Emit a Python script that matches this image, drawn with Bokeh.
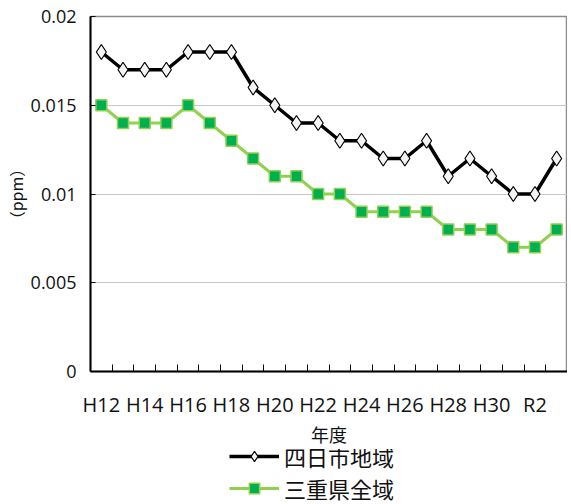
from bokeh.plotting import figure
from bokeh.layouts import column
from bokeh.models import FixedTicker, Legend, LegendItem, CustomJSTickFormatter, Range1d, ColumnDataSource
from bokeh.embed import file_html
from bokeh.resources import INLINE

years = ["H12", "H13", "H14", "H15", "H16", "H17", "H18", "H19", "H20", "H21", "H22",
         "H23", "H24", "H25", "H26", "H27", "H28", "H29", "H30", "R1", "R2", "R3"]
yokkaichi = [0.018, 0.017, 0.017, 0.017, 0.018, 0.018, 0.018, 0.016, 0.015, 0.014, 0.014,
             0.013, 0.013, 0.012, 0.012, 0.013, 0.011, 0.012, 0.011, 0.010, 0.010, 0.012]
mie = [0.015, 0.014, 0.014, 0.014, 0.015, 0.014, 0.013, 0.012, 0.011, 0.011, 0.010,
       0.010, 0.009, 0.009, 0.009, 0.009, 0.008, 0.008, 0.008, 0.007, 0.007, 0.008]
y_ticks = [0, 0.005, 0.01, 0.015, 0.02]
series_names = ["四日市地域", "三重県全域"]

idx = list(range(len(years)))
src = ColumnDataSource(dict(x=idx, year=years, a=yokkaichi, b=mie))

FONT = "Open Sans"
JP = "Noto Sans CJK JP"
TXT = "#111111"

STYLE_A = dict(line=dict(line_color="black", line_width=3.5),
               marker=dict(marker="diamond", size=15, fill_color="#f4f4f4",
                           line_color="black", line_width=1.2))
STYLE_B = dict(line=dict(line_color="#92d050", line_width=3),
               marker=dict(marker="square", size=11, fill_color="#00b050",
                           line_color="#92d050", line_width=1.5))

p = figure(frame_width=477, frame_height=355, output_backend="svg", toolbar_location=None,
           x_range=Range1d(-0.5, len(years) - 0.5), y_range=Range1d(0, 0.02),
           min_border_left=86, min_border_top=16, min_border_right=0, min_border_bottom=0)

p.outline_line_color = "#8c8c8c"
p.outline_line_width = 1.5
p.background_fill_color = "white"
p.border_fill_color = "white"

# grid
p.xgrid.visible = False
p.ygrid.grid_line_color = "#c8c8c8"
p.ygrid.grid_line_width = 1

# y axis
p.yaxis.ticker = FixedTicker(ticks=y_ticks)
p.yaxis.formatter = CustomJSTickFormatter(code="return tick.toString();")
p.yaxis.axis_line_color = "black"
p.yaxis.axis_line_width = 2
p.yaxis.major_tick_out = 0
p.yaxis.major_tick_in = 5
p.yaxis.minor_tick_line_color = None
p.yaxis.major_label_text_font = FONT
p.yaxis.major_label_text_font_size = "18px"
p.yaxis.major_label_text_color = TXT
p.yaxis.major_label_standoff = 14
p.yaxis.axis_label = "（ppm）"
p.yaxis.axis_label_text_font = JP
p.yaxis.axis_label_text_font_size = "16px"
p.yaxis.axis_label_text_color = TXT
p.yaxis.axis_label_text_font_style = "normal"
p.yaxis.axis_label_standoff = 0

# x axis
label_idx = [i for i in idx if i % 2 == 0]
boundaries = [i + 0.5 for i in idx[:-1]]
p.xaxis.ticker = FixedTicker(ticks=label_idx, minor_ticks=boundaries)
p.xaxis.major_label_overrides = {i: years[i] for i in label_idx}
p.xaxis.axis_line_color = "black"
p.xaxis.axis_line_width = 2
p.xaxis.major_tick_line_color = None
p.xaxis.minor_tick_line_color = "black"
p.xaxis.minor_tick_in = 7
p.xaxis.minor_tick_out = 0
p.xaxis.major_label_text_font = FONT
p.xaxis.major_label_text_font_size = "20px"
p.xaxis.major_label_text_color = TXT
p.xaxis.major_label_standoff = 13
p.xaxis.axis_label = "年度"
p.xaxis.axis_label_text_font = JP
p.xaxis.axis_label_text_font_size = "18px"
p.xaxis.axis_label_text_color = TXT
p.xaxis.axis_label_text_font_style = "normal"
p.xaxis.axis_label_standoff = 0

# series
p.line("x", "a", source=src, **STYLE_A["line"])
p.scatter("x", "a", source=src, **STYLE_A["marker"])
p.line("x", "b", source=src, **STYLE_B["line"])
p.scatter("x", "b", source=src, **STYLE_B["marker"])

# legend strip below the chart (same series, ranges chosen so only the legend shows)
q = figure(width=563, height=58, output_backend="svg", toolbar_location=None,
           x_range=Range1d(1000, 1001), y_range=Range1d(1000, 1001),
           min_border=0, min_border_left=0, min_border_right=0,
           min_border_top=0, min_border_bottom=0)
q.axis.visible = False
q.grid.visible = False
q.outline_line_color = None
q.border_fill_color = "white"
q.background_fill_color = "white"
ql1 = q.line("x", "a", source=src, **STYLE_A["line"])
qs1 = q.scatter("x", "a", source=src, **STYLE_A["marker"])
ql2 = q.line("x", "b", source=src, **STYLE_B["line"])
qs2 = q.scatter("x", "b", source=src, **STYLE_B["marker"])

legend = Legend(items=[LegendItem(label=series_names[0], renderers=[ql1, qs1]),
                       LegendItem(label=series_names[1], renderers=[ql2, qs2])],
                location=(139, 3), orientation="vertical")
legend.label_text_font = JP
legend.label_text_font_size = "22px"
legend.label_text_color = TXT
legend.glyph_width = 50
legend.glyph_height = 26
legend.label_height = 26
legend.spacing = -6
legend.padding = 0
legend.margin = 0
legend.border_line_color = None
legend.background_fill_alpha = 0
legend.label_standoff = 5
q.add_layout(legend, "center")

layout = column(p, q, spacing=0)
open("out.html", "w").write(file_html(layout, INLINE))
